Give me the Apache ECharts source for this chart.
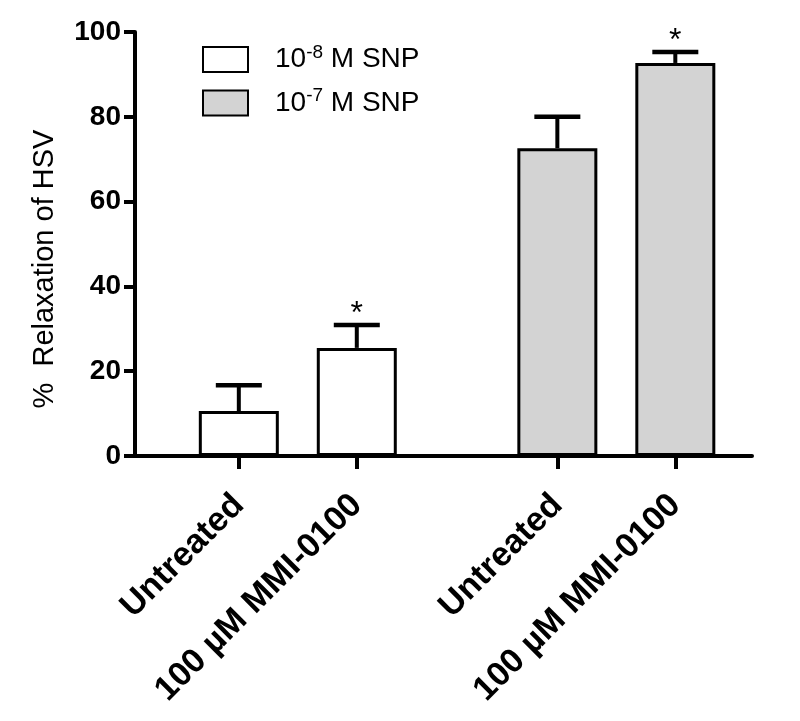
<!DOCTYPE html>
<html>
<head>
<meta charset="utf-8">
<script src="https://cdn.jsdelivr.net/npm/echarts@6/dist/echarts.min.js"></script>
<style>html,body{margin:0;padding:0;background:#fff}#c{width:800px;height:721px}</style>
</head>
<body>
<div id="c"></div>
<script>
// ---- data ----
const categories = ['Untreated', '100 µM MMI-0100', 'Untreated', '100 µM MMI-0100'];
const seriesNames = ['10-8 M SNP', '10-7 M SNP'];
const snp8Mean = [10.6, 25.5];
const snp8Err = [6.1, 5.4];
const snp8Sig = ['', '*'];
const snp7Mean = [72.6, 92.7];
const snp7Err = [7.4, 2.6];
const snp7Sig = ['', '*'];
const yTicks = [0, 20, 40, 60, 80, 100];

// ---- layout (slot positions of the four categories on the x scale) ----
const slots = [1, 2, 3.7, 4.7];

const chart = echarts.init(document.getElementById('c'), null, {renderer: 'canvas'});
const F = 'Arial, "Liberation Sans", sans-serif';

function barData(means, offset) {
  return means.map((v, i) => [slots[offset + i], v]);
}
function errData(means, errs, sig, offset) {
  return means.map((v, i) => [slots[offset + i], v, errs[i], sig[i]]);
}
const errAll = [errData(snp8Mean, snp8Err, snp8Sig, 0), errData(snp7Mean, snp7Err, snp7Sig, 2)];
function renderErr(params, api) {
  const x = api.value(0), m = api.value(1), e = api.value(2);
  const sig = errAll[params.seriesIndex === 2 ? 0 : 1][params.dataIndex][3];
  const p0 = api.coord([x, m]);
  const p1 = api.coord([x, m + e]);
  const half = 23;
  const children = [
    {type: 'line', shape: {x1: p0[0], y1: p0[1], x2: p1[0], y2: p1[1]}, style: {stroke: '#000', lineWidth: 4}},
    {type: 'line', shape: {x1: p1[0] - half, y1: p1[1], x2: p1[0] + half, y2: p1[1]}, style: {stroke: '#000', lineWidth: 4.5}}
  ];
  if (sig) {
    children.push({type: 'text', style: {text: sig, x: p1[0], y: p1[1] + 5, align: 'center', verticalAlign: 'bottom', font: '32px ' + F, fill: '#000'}});
  }
  return {type: 'group', children};
}

const legendRich = {
  n: {fontSize: 28, fontFamily: F, color: '#000'},
  s: {fontSize: 19, fontFamily: F, color: '#000', padding: [0, 0, 14, 0]}
};

chart.setOption({
  animation: false,
  backgroundColor: '#fff',
  grid: {left: 135, right: 48, top: 32, bottom: 265, containLabel: false},
  legend: {
    orient: 'vertical', left: 202, top: 43, padding: 0, itemWidth: 45, itemHeight: 25, itemGap: 13,
    icon: 'rect',
    data: seriesNames,
    formatter: function (name) {
      const m = name.match(/^10(-\d) (.*)$/);
      return '{n|10}{s|' + m[1] + '}{n| ' + m[2] + '}';
    },
    textStyle: {rich: legendRich, padding: [0, 0, 0, 22]}
  },
  xAxis: {
    type: 'value', min: 0.12, max: 5.35,
    splitLine: {show: false},
    axisLine: {show: true, onZero: false, lineStyle: {color: '#000', width: 4}},
    axisTick: {show: true, customValues: slots, length: 13, lineStyle: {color: '#000', width: 4}},
    axisLabel: {
      show: true, customValues: slots, rotate: 45, margin: 44,
      fontFamily: F, fontSize: 34, fontWeight: 'bold', color: '#000',
      formatter: function (v) { const i = slots.indexOf(v); return i >= 0 ? categories[i] : ''; }
    }
  },
  yAxis: {
    type: 'value', min: 0, max: 100, interval: 20,
    splitLine: {show: false},
    axisLine: {show: true, lineStyle: {color: '#000', width: 4}},
    axisTick: {show: true, length: 11, lineStyle: {color: '#000', width: 4}},
    axisLabel: {fontFamily: F, fontSize: 28, fontWeight: 'bold', color: '#000', margin: 14,
      formatter: function (v) { return yTicks.indexOf(v) >= 0 ? String(v) : ''; }},
    name: '%  Relaxation of HSV', nameLocation: 'middle', nameGap: 76, nameRotate: 90,
    nameTextStyle: {fontFamily: F, fontSize: 29, color: '#000', padding: [0, 50, 0, 0]}
  },
  series: [
    {name: seriesNames[0], type: 'bar', barWidth: 80, barGap: '-100%', data: barData(snp8Mean, 0),
      itemStyle: {color: '#ffffff', borderColor: '#000', borderWidth: 3}},
    {name: seriesNames[1], type: 'bar', barWidth: 80, barGap: '-100%', data: barData(snp7Mean, 2),
      itemStyle: {color: '#d3d3d3', borderColor: '#000', borderWidth: 3}},
    {type: 'custom', renderItem: renderErr, data: errAll[0].map(d => d.slice(0, 3)), z: 3},
    {type: 'custom', renderItem: renderErr, data: errAll[1].map(d => d.slice(0, 3)), z: 3}
  ]
});
</script>
</body>
</html>
